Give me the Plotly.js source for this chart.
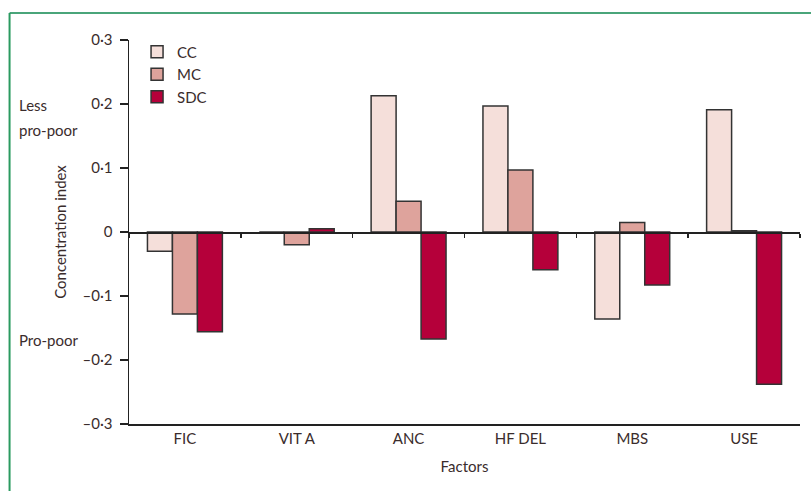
<!DOCTYPE html>
<html><head><meta charset="utf-8">
<script src="https://cdn.plot.ly/plotly-3.0.1.min.js"></script>
<style>html,body{margin:0;padding:0;background:#fff}#c{width:811px;height:491px}</style>
</head><body><div id="c"></div>
<script>
const categories = ["FIC", "VIT A", "ANC", "HF DEL", "MBS", "USE"];
const seriesNames = ["CC", "MC", "SDC"];
const ccValues  = [-0.030, 0.000, 0.213, 0.197, -0.136, 0.191];
const mcValues  = [-0.128, -0.020, 0.048, 0.097, 0.015, 0.002];
const sdcValues = [-0.156, 0.005, -0.167, -0.059, -0.083, -0.238];
const yTickVals = [-0.3, -0.2, -0.1, 0, 0.1, 0.2, 0.3];
const yTickText = ["\u20130\u00b73", "\u20130\u00b72", "\u20130\u00b71", "0", "0\u00b71", "0\u00b72", "0\u00b73"];

const colors = ["#f5dfda", "#dea39c", "#b5003a"];
const font = "Lato, Open Sans, sans-serif";
const fs = 15;
const txt = "#3a2c2c";
const vals = [ccValues, mcValues, sdcValues];

const data = seriesNames.map((n, i) => ({
  type: "bar", name: n, x: categories, y: vals[i],
  marker: {color: colors[i], line: {color: "#333", width: 1.5}},
  xaxis: "x", yaxis: "y"
}));
data.push({type: "scatter", mode: "none", x: categories, y: categories.map(() => 0),
  xaxis: "x2", yaxis: "y", showlegend: false, hoverinfo: "skip"});

const layout = {
  width: 811, height: 491,
  margin: {l: 129, r: 11, t: 40, b: 67},
  paper_bgcolor: "#fff", plot_bgcolor: "#fff",
  font: {family: font, size: fs, color: txt},
  barmode: "group", bargap: 0.33, bargroupgap: 0,
  showlegend: true,
  legend: {x: 0.012, y: 1.012, xanchor: "left", yanchor: "top", bgcolor: "rgba(0,0,0,0)",
    font: {family: font, size: fs, color: txt}, tracegroupgap: 0, itemwidth: 30},
  xaxis: {
    type: "category", showline: true, linecolor: "#222", linewidth: 1.5,
    ticks: "", showgrid: false, zeroline: false,
    tickfont: {family: font, size: fs, color: txt},
    title: {text: "Factors", font: {family: font, size: fs, color: txt}, standoff: 16}
  },
  xaxis2: {
    type: "category", overlaying: "x", matches: "x", anchor: "free", position: 0.5,
    showline: true, linecolor: "#222", linewidth: 1.5,
    ticks: "outside", tickson: "boundaries", ticklen: 4, tickcolor: "#222", tickwidth: 1.5,
    showticklabels: false, showgrid: false, zeroline: false, side: "bottom"
  },
  yaxis: {
    range: [-0.3, 0.3], tickvals: yTickVals, ticktext: yTickText,
    showline: true, linecolor: "#222", linewidth: 1.5,
    ticks: "outside", ticklen: 8, tickcolor: "#222", tickwidth: 1.5,
    showgrid: false, zeroline: false, ticklabelstandoff: 4,
    tickfont: {family: font, size: fs, color: txt},
    title: {text: "Concentration index", font: {family: font, size: fs, color: txt}, standoff: 12}
  },
  annotations: [
    {xref: "paper", yref: "paper", x: -0.167, y: 0.832, xanchor: "left", yanchor: "middle",
     text: "Less", showarrow: false, align: "left", font: {family: font, size: fs, color: txt}},
    {xref: "paper", yref: "paper", x: -0.167, y: 0.765, xanchor: "left", yanchor: "middle",
     text: "pro-poor", showarrow: false, align: "left", font: {family: font, size: fs, color: txt}},
    {xref: "paper", yref: "paper", x: -0.167, y: 0.219, xanchor: "left", yanchor: "middle",
     text: "Pro-poor", showarrow: false, align: "left", font: {family: font, size: fs, color: txt}}
  ],
  shapes: [
    {type: "line", xref: "paper", yref: "paper", x0: -0.178, x1: 1.02, y0: 1.07, y1: 1.07,
     line: {color: "#4aa57a", width: 2}},
    {type: "line", xref: "paper", yref: "paper", x0: -0.178, x1: -0.178, y0: 1.07, y1: -0.2,
     line: {color: "#2a9a60", width: 2}}
  ]
};
Plotly.newPlot("c", data, layout, {displayModeBar: false, staticPlot: true});
</script></body></html>
